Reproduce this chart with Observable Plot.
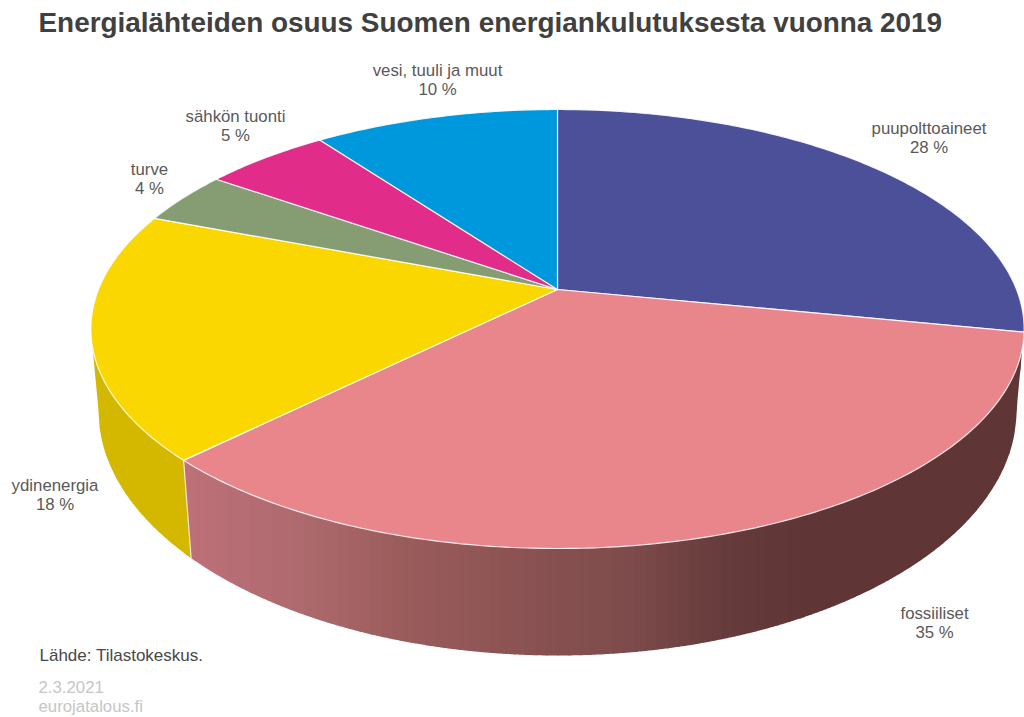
<!DOCTYPE html>
<html><head><meta charset="utf-8">
<script src="https://cdn.jsdelivr.net/npm/d3@7"></script>
<script src="https://cdn.jsdelivr.net/npm/@observablehq/plot@0.6"></script>
<style>html,body{margin:0;padding:0;background:#fff}svg{display:block}</style>
</head><body><div id="chart"></div>
<script>
const names = ["puupolttoaineet","fossiiliset","ydinenergia","turve","sähkön tuonti","vesi, tuuli ja muut"];
const shares = [28.1,34.5,18.2,3.9,5.2,10.1];
const topColors = ["#4b5099","#e8868c","#fad700","#869d73","#e22c89","#0098dc"];
const labelX = [928.5,934,54.5,149,235,437];
const labelY = [136.5,621.5,493.5,178,125,78.5];
const fossilWallX = [184,300,400,550,620,720,800,1024];
const fossilWallColors = ["#be7078","#ae6a6e","#9b5c5c","#875050","#7f4c4c","#673c3c","#5f3535","#5f3535"];
const yellowWall = "#d4b800";

// projection of the tilted disc
const cx=557, cy=289, a=459, b=212.4, k=0.18;
const rim = t => { const u=Math.sin(t), v=Math.cos(t), d=1+k*v; return [cx+a*u/d, cy-b*v/d]; };
const base = t => { const p=rim(t); return (x=>[x,wallBottom(x)])(cx+(p[0]-cx)*0.98); };
// visible front edge of the top ellipse and of the lower silhouette, as a function of x
const wallTop = x => 328.5+219.5*Math.sqrt(Math.max(0,1-((x-cx)/466.5)**2));
const wallBottom = x => { const d=Math.abs(x-cx), rx=459;
  return d<=rx ? 410+245*Math.sqrt(1-(d/rx)**2) : 410-(d-rx)/7.5*80; };
const TAU=2*Math.PI;
let cum=0;
const slices = names.map((n,i)=>{ const s={name:n,value:shares[i],color:topColors[i],t0:cum/100*TAU}; cum+=shares[i]; s.t1=cum/100*TAU; return s; });

const topPts=[];
slices.forEach(s=>{
  topPts.push({id:s.name,x:cx,y:cy,c:s.color});
  const n=Math.ceil((s.t1-s.t0)*80);
  d3.range(n+1).forEach(j=>{ const p=rim(s.t0+(s.t1-s.t0)*j/n); topPts.push({id:s.name,x:p[0],y:p[1],c:s.color}); });
});

const fossil=slices[1];
const seamTop=rim(fossil.t1), seamBase=base(fossil.t1);
const wallColor = d3.scaleLinear().domain(fossilWallX).range(fossilWallColors).clamp(true);
const wallPts=[];
// vertical bands, painted left to right so each one overlaps the next
const bandW=11;
d3.range(seamTop[0],1024,bandW).forEach((xa,j)=>{
  const xb=Math.min(1024,xa+bandW+1), c=wallColor(xa+bandW/2);
  const xs=d3.range(xa,xb,1.5).concat([xb]);
  xs.forEach(x=>wallPts.push({id:"f"+j,x,y:wallTop(x)-3,c}));
  xs.slice().reverse().forEach(x=>wallPts.push({id:"f"+j,x,y:wallBottom(x),c}));
});
// yellow side, from its left silhouette to the seam
const yx=d3.range(91,seamTop[0],1.5);
yx.forEach(x=>wallPts.push({id:"y",x,y:wallTop(x)-3,c:yellowWall}));
wallPts.push({id:"y",x:seamTop[0],y:seamTop[1],c:yellowWall},{id:"y",x:seamBase[0],y:seamBase[1],c:yellowWall});
d3.range(seamBase[0],91,-1.5).forEach(x=>wallPts.push({id:"y",x,y:wallBottom(x),c:yellowWall}));
const seam=[seamTop,seamBase].map(p=>({x:p[0],y:p[1]}));

const labels=slices.map((s,i)=>({text:`${s.name}\n${Math.round(s.value)} %`,x:labelX[i],y:labelY[i]}));
const font="'Liberation Sans',Arial,sans-serif";

const plot=Plot.plot({
  width:1024,height:717,margin:0,
  x:{domain:[0,1024],range:[0,1024],axis:null},
  y:{domain:[0,717],range:[0,717],axis:null},
  color:{type:"identity"},
  style:{fontFamily:font,background:"#fff"},
  marks:[
    Plot.line(wallPts,{x:"x",y:"y",z:"id",fill:"c",curve:"linear-closed"}),
    Plot.line(seam,{x:"x",y:"y",stroke:"#f5e8d8",strokeWidth:1.2}),
    Plot.line(topPts,{x:"x",y:"y",z:"id",fill:"c",stroke:"#fff",strokeOpacity:0.85,strokeWidth:1.2,curve:"linear-closed",strokeLinejoin:"round"}),
    Plot.text(labels,{x:"x",y:"y",text:"text",fontSize:16.8,fill:"#595959",lineHeight:1.14,textAnchor:"middle"}),
    Plot.text(["Energialähteiden osuus Suomen energiankulutuksesta vuonna 2019"],{frameAnchor:"top-left",dx:38,dy:12,fontSize:27.9,fontWeight:"bold",fill:"#404040",textAnchor:"start",lineAnchor:"top"}),
    Plot.text(["Lähde: Tilastokeskus."],{frameAnchor:"top-left",dx:39,dy:648.5,fontSize:17,fill:"#484848",textAnchor:"start",lineAnchor:"top"}),
    Plot.text(["2.3.2021\neurojatalous.fi"],{frameAnchor:"top-left",dx:38,dy:679,fontSize:16.8,fill:"#c6c6c6",textAnchor:"start",lineAnchor:"top",lineHeight:1.13})
  ]
});
document.getElementById("chart").append(plot);
</script></body></html>
